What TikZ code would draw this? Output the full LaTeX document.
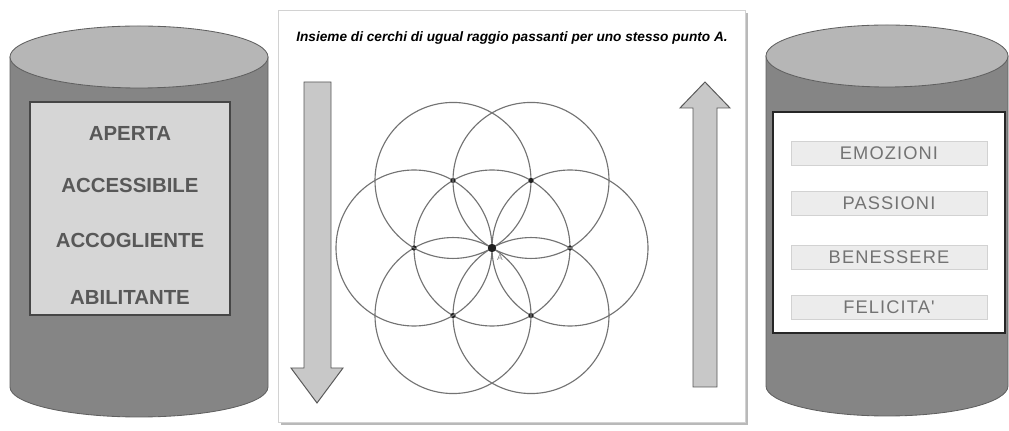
\documentclass[tikz,border=0pt]{standalone}
\usepackage{fontspec}
\setmainfont{Liberation Sans}
\newfontfamily\widefont[LetterSpace=6]{Liberation Sans}
\usetikzlibrary{positioning, calc}
\definecolor{cylbody}{RGB}{133,133,133}
\definecolor{cyltop}{RGB}{182,182,182}
\definecolor{panelgray}{RGB}{214,214,214}
\definecolor{textgray}{RGB}{88,88,88}
\definecolor{arrowgray}{RGB}{200,200,200}

\begin{document}
\begin{tikzpicture}[
    x=0.025cm, y=-0.025cm,
    cylbox/.style={fill=cylbody, draw=gray!75!black, line width=0.6pt},
    cyllid/.style={fill=cyltop, draw=gray!75!black, line width=0.6pt},
    quality/.style={font=\fontsize{14.5}{16}\selectfont\bfseries, text=textgray},
    feeling/.style={draw=gray!35, fill=gray!15, minimum width=4.9cm, minimum height=0.6cm, inner sep=0pt,
        font=\widefont\fontsize{13}{15}\selectfont, text=gray!90!black},
    blockarrow/.style={fill=arrowgray, draw=gray!70!black, line width=0.7pt, line join=miter},
    ring/.style={draw=gray!90!black, line width=0.8pt},
]
    \useasboundingbox (0,0) rectangle (1009,431);

    % left cylinder
    \draw[cylbox] (10,57) -- (10,387) arc[start angle=180, end angle=0, x radius=129, y radius=30] -- (268,57) -- cycle;
    \draw[cyllid] (139,57) ellipse[x radius=129, y radius=31];
    \draw[fill=panelgray, draw=gray!55!black, line width=1pt] (30,102) rectangle (230,315);
    \node[quality] (aperta) at (130,133) {APERTA};
    \node[quality] (accessibile) at (130,185) {ACCESSIBILE};
    \node[quality] (accogliente) at (130,240) {ACCOGLIENTE};
    \node[quality] (abilitante) at (130,297) {ABILITANTE};

    % middle panel
    \fill[gray!55] (281,13) rectangle (748,425);
    \draw[fill=white, draw=gray!35] (278,10) rectangle (745,422);
    \node[font=\fontsize{9.7}{11}\selectfont\bfseries\itshape] (title) at (512,38)
        {Insieme di cerchi di ugual raggio passanti per uno stesso punto A.};

    \draw[blockarrow] (304,82) -- (331,82) -- (331,368) -- (343,368) -- (317,403) -- (291,368) -- (304,368) -- cycle;
    \draw[blockarrow] (693,387) -- (717,387) -- (717,108) -- (730,108) -- (705,82) -- (680,108) -- (693,108) -- cycle;

    % seed of circles through A
    \coordinate (A) at (492,248);
    \draw[ring] (A) circle[radius=78];
    \foreach \a in {0,60,...,300} {
        \draw[ring] (A) ++(\a:78) circle[radius=78];
        \fill[gray!25!black] (A) ++(\a:78) circle[radius=2.6];
    }
    \fill[gray!25!black] (A) circle[radius=4.2];
    \node[font=\fontsize{6}{7}\selectfont, text=gray, inner sep=0pt] (alabel) at (500,258) {A};

    % right cylinder
    \draw[cylbox] (766,56) -- (766,386) arc[start angle=180, end angle=0, x radius=121, y radius=30] -- (1008,56) -- cycle;
    \draw[cyllid] (887,56) ellipse[x radius=121, y radius=31];
    \draw[fill=white, draw=gray!30!black, line width=1pt] (773,112) rectangle (1005,333);
    \node[feeling] (emozioni) at (889,153) {EMOZIONI};
    \node[feeling] (passioni) at (889,203) {PASSIONI};
    \node[feeling] (benessere) at (889,257) {BENESSERE};
    \node[feeling] (felicita) at (889,307) {FELICITA'};
\end{tikzpicture}
\end{document}
